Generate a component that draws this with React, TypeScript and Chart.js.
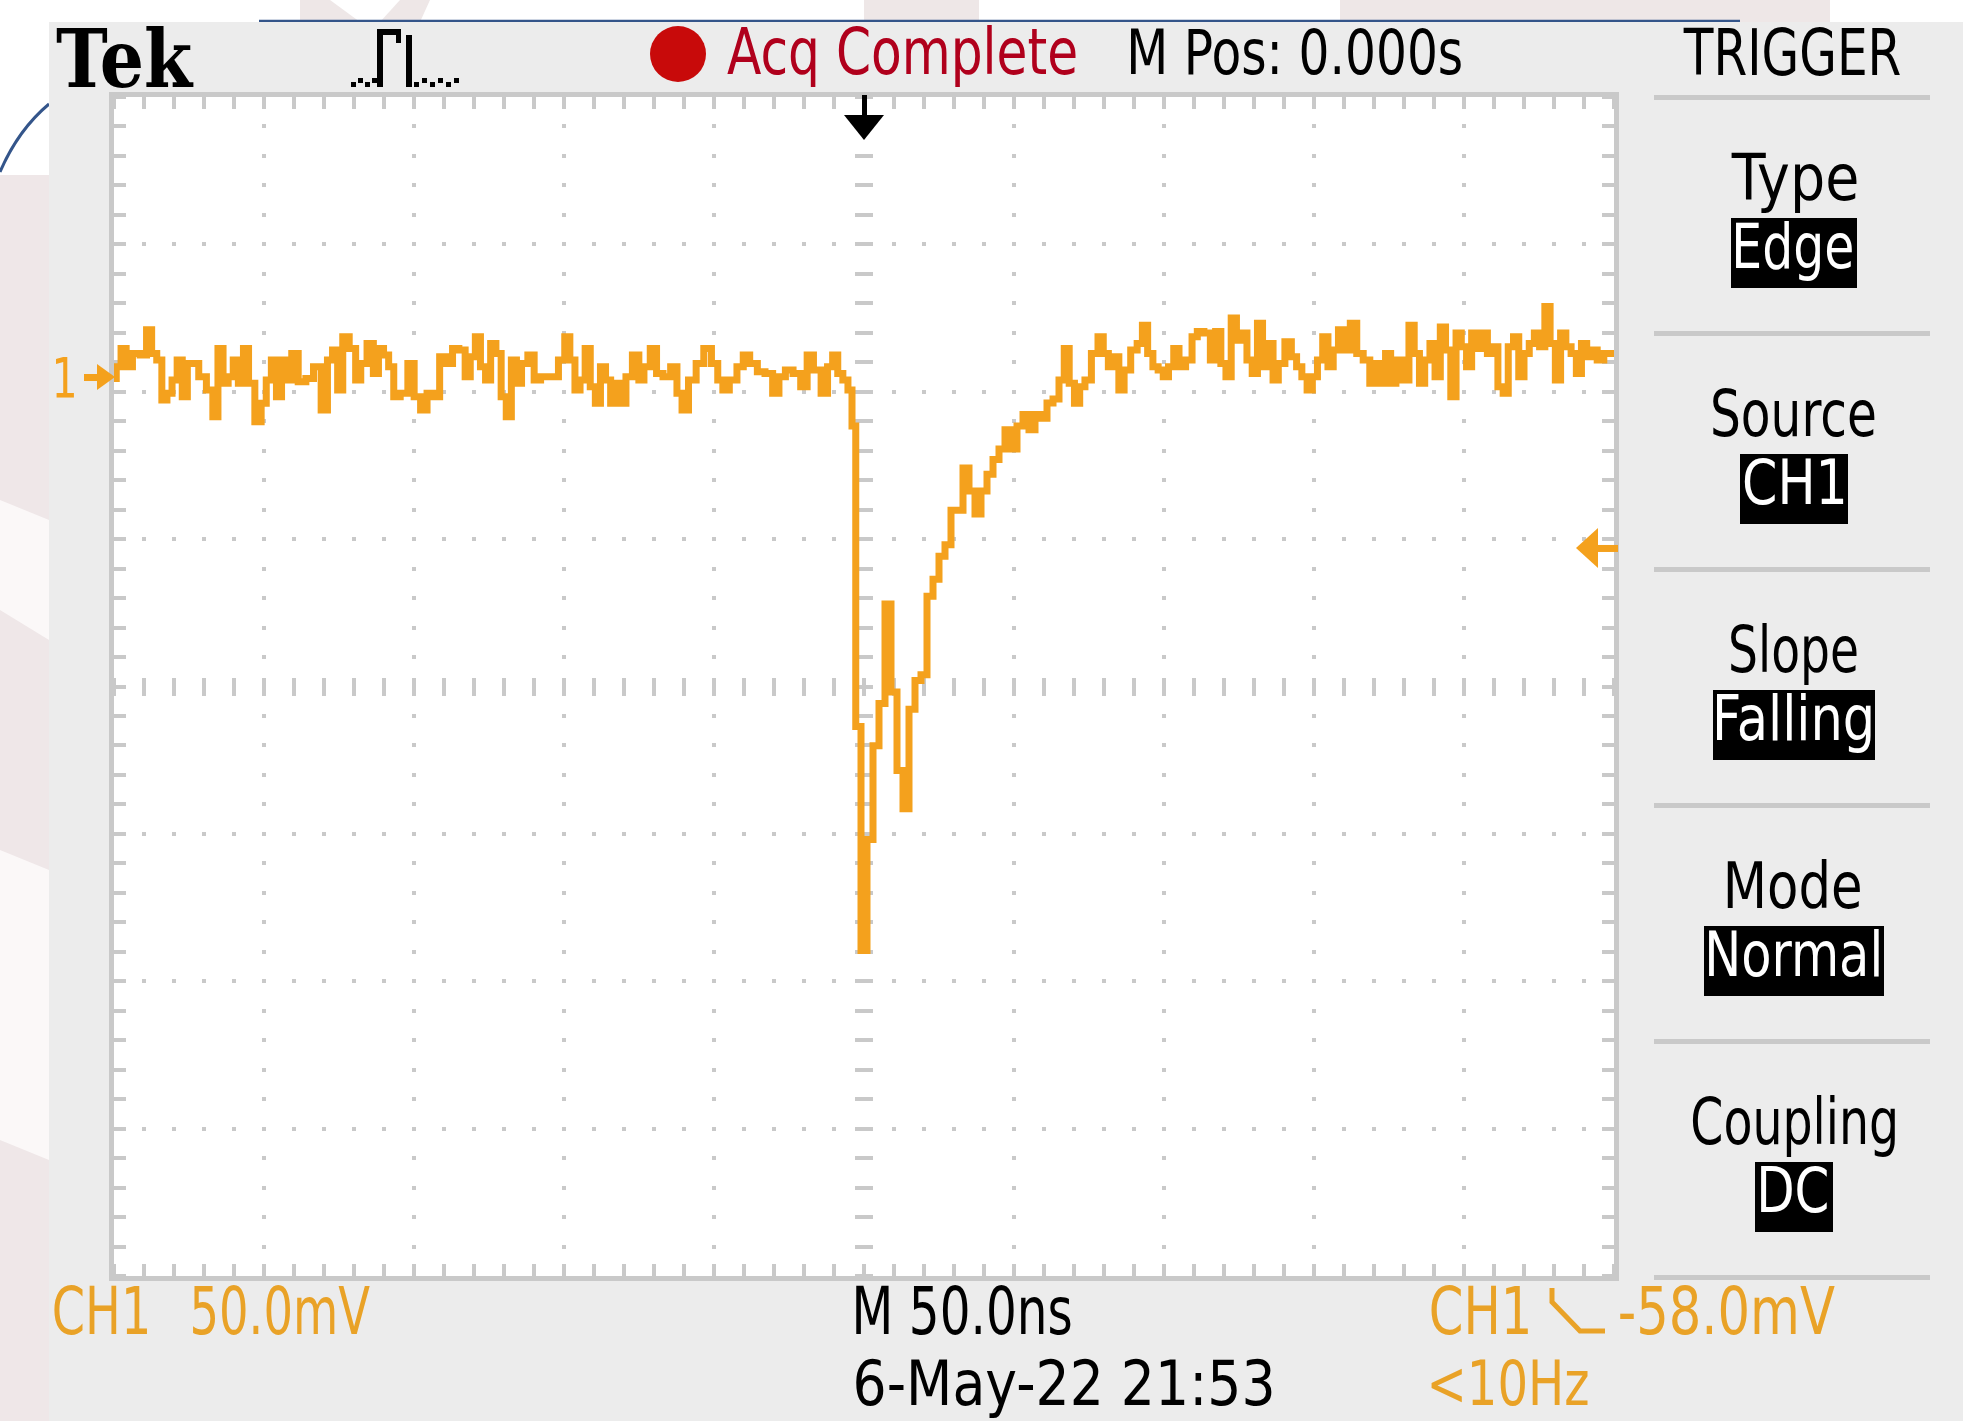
import React, { useEffect, useRef } from 'react';
import { Chart, registerables } from 'chart.js';

Chart.register(...registerables);

const timeNs = [
  -250, -248.5, -246.8, -245.1, -242.6, -240.0, -238.3, -236.6, -234.9, -233.2,
  -231.5, -229.8, -228.1, -226.4, -224.7, -223.0, -220.5, -217.9, -216.2, -214.5,
  -212.8, -211.1, -209.4, -207.7, -206.0, -204.3, -201.8, -200.1, -198.4, -196.7,
  -195.0, -193.3, -191.6, -189.9, -187.3, -184.8, -182.2, -179.7, -178.0, -176.3,
  -174.6, -172.9, -170.3, -168.6, -166.9, -164.4, -162.7, -161.0, -159.3, -157.6,
  -155.9, -153.3, -150.8, -149.1, -146.5, -144.8, -142.3, -140.6, -138.0, -136.3,
  -133.8, -132.1, -130.4, -128.7, -127.0, -125.3, -123.6, -121.8, -120.1, -118.4,
  -116.7, -115.0, -113.3, -110.8, -109.1, -106.5, -103.1, -100.6, -98.9, -97.2,
  -95.5, -93.8, -92.1, -90.4, -88.7, -87.0, -85.3, -83.6, -81.9, -80.2,
  -78.5, -75.9, -74.2, -72.5, -70.0, -68.3, -65.7, -63.2, -61.5, -59.8,
  -57.2, -54.7, -52.1, -49.6, -47.9, -46.2, -43.6, -41.1, -39.4, -36.8,
  -34.3, -31.7, -29.2, -27.5, -24.9, -22.4, -19.8, -18.1, -15.6, -13.0,
  -11.3, -9.6, -7.9, -6.2, -4.5, -3.5, -2, 0, 2, 4,
  6, 8, 10, 12, 14, 16, 18, 20, 22, 24,
  26, 28, 30, 32, 34, 36, 38, 40, 42, 44,
  46, 48, 50, 52, 54, 56, 58, 60, 62, 64,
  66, 67.5, 69.3, 71.0, 72.8, 74.5, 77.1, 78.9, 80.6, 82.3,
  84.1, 85.8, 87.6, 90.2, 91.9, 93.7, 95.4, 97.2, 98.9, 100.6,
  102.4, 104.1, 105.9, 108.5, 110.2, 112.0, 114.6, 116.3, 118.1, 119.8,
  121.5, 123.3, 125.0, 126.8, 128.5, 130.3, 132.0, 133.7, 135.5, 137.2,
  139.0, 141.6, 143.3, 145.1, 146.8, 148.6, 150.3, 152.0, 153.8, 155.5,
  157.3, 159.0, 160.8, 163.4, 165.1, 167.7, 169.5, 171.2, 173.0, 174.7,
  176.4, 178.2, 180.8, 182.5, 184.3, 186.0, 187.8, 189.5, 191.2, 193.0,
  194.7, 196.5, 198.2, 200.0, 201.7, 203.4, 205.2, 206.9, 208.7, 210.4,
  212.2, 213.9, 215.6, 217.4, 219.1, 220.9, 222.6, 224.3, 226.1, 227.8,
  229.6, 231.3, 233.1, 234.8, 236.6, 238.3, 240.0, 241.8, 243.5, 245.3,
  247.9, 250,
];

const ch1mV = [
  -0.5, 3.5, 9.7, 3.5, 8.0, 7.5, 16.0, 8.0, 5.8, -7.8,
  -5.5, -1.0, 5.8, -6.7, 4.6, 4.6, 0.1, -4.4, -13.5, 9.7,
  -2.1, 0.1, 5.8, -2.1, 9.7, -2.1, -15.2, -8.9, -1.0, 5.8,
  -6.7, 5.8, -1.0, 8.0, -1.6, -0.5, 3.5, -11.2, 5.8, 9.2,
  -4.4, 13.7, 9.7, -1.0, 4.6, 11.4, 1.2, 9.7, 7.5, 3.5,
  -6.7, -5.5, 4.6, -6.7, -11.2, -5.5, -6.7, 6.9, 4.6, 9.7,
  9.2, 0.1, 6.9, 13.7, 3.5, -1.0, 11.4, 8.0, -6.7, -13.5,
  5.8, -2.1, 4.6, 7.5, -1.0, 0.1, 0.1, 5.8, 13.7, 5.8,
  -4.4, -1.0, 9.7, -3.3, -8.9, 3.5, -1.0, -8.9, -2.1, -8.9,
  0.1, 7.5, -1.0, 3.5, 9.7, 1.2, 0.1, 3.5, -5.5, -11.2,
  -1.0, 4.6, 9.7, 4.6, -1.0, -4.4, -1.0, 3.5, 7.5, 4.6,
  1.8, 1.2, -5.5, 0.1, 2.4, 1.2, -3.3, 7.5, 2.4, -5.5,
  3.5, 7.5, 1.2, -1.0, -4.4, -16.6, -118.6, -194.6, -156.9, -125.1,
  -110.8, -77.0, -106.9, -133.5, -146.5, -112.7, -103.0, -101.0, -74.4, -68.6,
  -60.8, -56.9, -45.2, -45.2, -30.9, -38.7, -46.5, -38.7, -33.0, -28.0,
  -24.4, -17.9, -24.4, -16.6, -12.7, -17.9, -12.7, -14.0, -8.8, -7.5,
  -1.0, 9.7, -2.1, -8.9, -3.3, -1.0, 8.0, 13.7, 8.0, 3.5,
  6.9, -4.4, 2.4, 9.2, 11.4, 17.6, 8.0, 3.5, 2.4, 0.1,
  3.5, 9.7, 3.5, 5.8, 13.7, 15.4, 14.9, 5.8, 15.4, 4.6,
  0.1, 20.0, 12.5, 14.9, 5.8, 1.2, 18.2, 3.5, 11.4, -1.0,
  4.6, 12.0, 6.9, 3.5, 0.1, -4.4, 0.1, 5.8, 13.7, 3.5,
  9.2, 16.0, 9.2, 18.2, 8.0, 5.8, -2.1, 4.6, -2.1, 8.0,
  -2.1, 5.8, -1.0, 17.6, 8.0, -2.1, 5.8, 11.4, 0.1, 17.0,
  9.2, -6.7, 14.9, 10.3, 3.5, 14.9, 9.7, 14.9, 8.0, 10.3,
  -3.3, -5.5, 10.3, 13.7, 0.1, 8.0, 11.4, 14.9, 10.3, 23.9,
  11.4, -1.0, 14.9, 10.3, 8.0, 1.2, 11.4, 6.9, 9.2, 5.8,
  8.0, 8.0,
];

const xRangeNs = [-250, 250];
const yRangeMv = [-305, 95];
const nsPerDiv = 50;
const mvPerDiv = 50;
const minorPerDiv = 5;
const triggerLevelMv = -58;
const triggerTimeNs = 0;
const groundMv = 0;

const headerTexts = ['Tek', 'Acq Complete', 'M Pos: 0.000s', 'TRIGGER'];
const triggerLabels = ['Type', 'Source', 'Slope', 'Mode', 'Coupling'];
const triggerValues = ['Edge', 'CH1', 'Falling', 'Normal', 'DC'];
const footerTexts = ['CH1', '50.0mV', 'M 50.0ns', '6-May-22 21:53', 'CH1', '-58.0mV', '<10Hz'];
const channelLabel = '1';

// ---------- styling ----------
const W = 1963;
const H = 1421;
const ORANGE = '#f4a11d';
const ORANGE_TXT = '#e9a227';
const GRID = '#c9c9c9';
const PANEL = '#ececec';

function fitText(
  ctx: CanvasRenderingContext2D,
  s: string,
  x0: number,
  x1: number,
  base: number,
  cap: number,
  color: string,
  family = 'DejaVu Sans',
  weight = 'normal'
) {
  const size = cap / 0.729;
  ctx.font = `${weight} ${size.toFixed(1)}px "${family}"`;
  const m = ctx.measureText(s);
  const inkW = m.actualBoundingBoxRight + m.actualBoundingBoxLeft;
  const sx = (x1 - x0) / inkW;
  ctx.save();
  ctx.translate(x0 + m.actualBoundingBoxLeft * sx, base);
  ctx.scale(sx, 1);
  ctx.fillStyle = color;
  ctx.textBaseline = 'alphabetic';
  ctx.textAlign = 'left';
  ctx.fillText(s, 0, 0);
  ctx.restore();
}

const scopePlugin = {
  id: 'scopeScreen',
  beforeDraw(chart: any) {
    const ctx: CanvasRenderingContext2D = chart.ctx;
    const { left, top, right, bottom } = chart.chartArea;
    const xs = chart.scales.x;
    const ys = chart.scales.y;
    ctx.save();
    // outer slide background
    ctx.fillStyle = '#ffffff';
    ctx.fillRect(0, 0, W, H);
    ctx.fillStyle = '#efe7e8';
    ctx.fillRect(0, 175, 49, H - 175);
    ctx.fillStyle = '#fbf8f8';
    ctx.beginPath();
    ctx.moveTo(0, 500); ctx.lineTo(49, 520); ctx.lineTo(49, 640); ctx.lineTo(0, 610); ctx.closePath(); ctx.fill();
    ctx.beginPath();
    ctx.moveTo(0, 850); ctx.lineTo(49, 870); ctx.lineTo(49, 1160); ctx.lineTo(0, 1140); ctx.closePath(); ctx.fill();
    ctx.fillStyle = '#eee7e7';
    ctx.beginPath();
    ctx.moveTo(300, 0); ctx.lineTo(330, 0); ctx.lineTo(360, 22); ctx.lineTo(300, 22); ctx.closePath(); ctx.fill();
    ctx.beginPath();
    ctx.moveTo(400, 0); ctx.lineTo(430, 0); ctx.lineTo(420, 22); ctx.lineTo(380, 22); ctx.closePath(); ctx.fill();
    ctx.fillRect(864, 0, 115, 22);
    ctx.fillRect(1340, 0, 490, 22);
    // blue decorations
    ctx.strokeStyle = '#34558a';
    ctx.lineWidth = 2.5;
    ctx.beginPath();
    ctx.moveTo(259, 21); ctx.lineTo(1740, 21); ctx.stroke();
    ctx.lineWidth = 3;
    ctx.beginPath();
    ctx.moveTo(49, 104); ctx.quadraticCurveTo(18, 130, 0, 172); ctx.stroke();
    // scope panel
    ctx.fillStyle = PANEL;
    ctx.fillRect(49, 22, W - 49, H - 22);
    // plot area
    ctx.fillStyle = '#ffffff';
    ctx.fillRect(left, top, right - left, bottom - top);

    const [x0, x1] = xRangeNs;
    const [y0, y1] = yRangeMv;
    const xMinor = nsPerDiv / minorPerDiv;
    const yMinor = mvPerDiv / minorPerDiv;
    ctx.fillStyle = GRID;
    // dotted major verticals
    for (let v = x0; v <= x1 + 1e-6; v += nsPerDiv) {
      const px = Math.round(xs.getPixelForValue(v));
      for (let m = y0; m <= y1 + 1e-6; m += yMinor) {
        const py = Math.round(ys.getPixelForValue(m));
        ctx.fillRect(px - 2, py - 2, 4, 4);
      }
    }
    // dotted major horizontals
    for (let m = y0; m <= y1 + 1e-6; m += mvPerDiv) {
      const py = Math.round(ys.getPixelForValue(m));
      for (let v = x0; v <= x1 + 1e-6; v += xMinor) {
        const px = Math.round(xs.getPixelForValue(v));
        ctx.fillRect(px - 2, py - 2, 4, 4);
      }
    }
    // centre cross ticks and edge ticks
    const cx = Math.round(xs.getPixelForValue((x0 + x1) / 2));
    const cy = Math.round(ys.getPixelForValue((y0 + y1) / 2));
    for (let m = y0; m <= y1 + 1e-6; m += yMinor) {
      const py = Math.round(ys.getPixelForValue(m));
      ctx.fillRect(cx - 9, py - 2, 18, 4);
      ctx.fillRect(left, py - 2, 12, 4);
      ctx.fillRect(right - 12, py - 2, 12, 4);
    }
    for (let v = x0; v <= x1 + 1e-6; v += xMinor) {
      const px = Math.round(xs.getPixelForValue(v));
      ctx.fillRect(px - 2, cy - 9, 4, 18);
      ctx.fillRect(px - 2, top, 4, 12);
      ctx.fillRect(px - 2, bottom - 12, 4, 12);
    }
    // frame
    ctx.fillRect(left - 5, top - 5, right - left + 10, 5);
    ctx.fillRect(left - 5, bottom, right - left + 10, 5);
    ctx.fillRect(left - 5, top - 5, 5, bottom - top + 10);
    ctx.fillRect(right, top - 5, 5, bottom - top + 10);
    ctx.restore();
  },
  afterDraw(chart: any) {
    const ctx: CanvasRenderingContext2D = chart.ctx;
    const { left, top, right } = chart.chartArea;
    const xs = chart.scales.x;
    const ys = chart.scales.y;
    ctx.save();

    // ground marker "1 ->"
    const gy = ys.getPixelForValue(groundMv);
    fitText(ctx, channelLabel, 56, 74, gy + 20, 40, ORANGE);
    ctx.fillStyle = ORANGE;
    ctx.fillRect(84, gy - 3, 16, 7);
    ctx.beginPath();
    ctx.moveTo(left + 1, gy);
    ctx.lineTo(left - 17, gy - 13);
    ctx.lineTo(left - 17, gy + 13);
    ctx.closePath();
    ctx.fill();

    // trigger level arrow (right)
    const ty = ys.getPixelForValue(triggerLevelMv);
    ctx.beginPath();
    ctx.moveTo(right - 38, ty);
    ctx.lineTo(right - 16, ty - 20);
    ctx.lineTo(right - 16, ty + 20);
    ctx.closePath();
    ctx.fill();
    ctx.fillRect(right - 18, ty - 3, 22, 7);

    // trigger position arrow (top)
    const tx = xs.getPixelForValue(triggerTimeNs);
    ctx.fillStyle = '#000';
    ctx.fillRect(tx - 2, top - 2, 5, 22);
    ctx.beginPath();
    ctx.moveTo(tx - 20, top + 18);
    ctx.lineTo(tx + 20, top + 18);
    ctx.lineTo(tx, top + 43);
    ctx.closePath();
    ctx.fill();

    // header
    fitText(ctx, headerTexts[0], 56, 194, 87, 59, '#000', 'DejaVu Serif', 'bold');
    // acquisition pulse icon
    ctx.fillStyle = '#000';
    for (let i = 0; i < 4; i++) ctx.fillRect(351 + i * 7, i % 2 ? 78 : 82, 5, 5);
    ctx.fillRect(377, 29, 6, 58);
    ctx.fillRect(377, 29, 22, 6);
    ctx.fillRect(396, 29, 5, 14);
    ctx.fillRect(406, 35, 6, 52);
    for (let i = 0; i < 6; i++) ctx.fillRect(414 + i * 8, i % 2 ? 78 : 82, 5, 5);
    // red record dot
    ctx.fillStyle = '#c80a0a';
    ctx.beginPath();
    ctx.ellipse(678, 54, 28, 28, 0, 0, Math.PI * 2);
    ctx.fill();
    fitText(ctx, headerTexts[1], 727, 1076, 74, 47, '#b0001c');
    fitText(ctx, headerTexts[2], 1131, 1461, 74, 46, '#000');
    fitText(ctx, headerTexts[3], 1683, 1900, 75, 47, '#000');

    // right trigger menu
    const labelW = [126, 162, 126, 133, 203];
    const boxW = [126, 108, 162, 180, 78];
    const valW = [116, 99, 154, 170, 66];
    const mid = 1794;
    ctx.fillStyle = GRID;
    for (let k = 0; k <= triggerLabels.length; k++) {
      const d = 97 + 236 * k;
      ctx.fillRect(1654, d - 2, 276, 5);
    }
    triggerLabels.forEach((lab, k) => {
      const d = 97 + 236 * k;
      fitText(ctx, lab, mid - labelW[k] / 2, mid + labelW[k] / 2, d + 103, 47, '#000');
      ctx.fillStyle = '#000';
      ctx.fillRect(mid - boxW[k] / 2, d + 121, boxW[k], 70);
      fitText(ctx, triggerValues[k], mid - valW[k] / 2, mid + valW[k] / 2, d + 171, 45, '#fff');
    });

    // footer
    fitText(ctx, footerTexts[0], 54, 147, 1334, 48, ORANGE_TXT);
    fitText(ctx, footerTexts[1], 193, 370, 1334, 48, ORANGE_TXT);
    fitText(ctx, footerTexts[2], 856, 1071, 1334, 48, '#000');
    fitText(ctx, footerTexts[3], 856, 1272, 1405, 46, '#000');
    fitText(ctx, footerTexts[4], 1431, 1528, 1334, 48, ORANGE_TXT);
    // falling slope glyph
    ctx.strokeStyle = ORANGE_TXT;
    ctx.lineWidth = 5;
    ctx.lineCap = 'butt';
    ctx.lineJoin = 'miter';
    ctx.beginPath();
    ctx.moveTo(1552, 1288);
    ctx.lineTo(1552, 1302);
    ctx.lineTo(1580, 1331);
    ctx.lineTo(1605, 1331);
    ctx.stroke();
    fitText(ctx, footerTexts[5], 1620, 1835, 1334, 48, ORANGE_TXT);
    fitText(ctx, footerTexts[6], 1431, 1588, 1405, 46, ORANGE_TXT);

    ctx.restore();
  },
};

export default function App() {
  const ref = useRef<HTMLCanvasElement | null>(null);

  useEffect(() => {
    document.body.style.margin = '0';
    document.body.style.overflow = 'hidden';
    const canvas = ref.current;
    if (!canvas) return;
    const chart = new Chart(canvas, {
      type: 'line',
      data: {
        datasets: [
          {
            label: 'CH1',
            data: timeNs.map((t, i) => ({ x: t, y: ch1mV[i] })),
            borderColor: ORANGE,
            borderWidth: 7,
            pointRadius: 0,
            stepped: 'middle',
            borderJoinStyle: 'miter',
            borderCapStyle: 'butt',
            fill: false,
          },
        ],
      },
      options: {
        animation: false,
        responsive: false,
        maintainAspectRatio: false,
        devicePixelRatio: 1,
        layout: { padding: { left: 114, top: 97, right: W - 1614, bottom: H - 1276 } },
        scales: {
          x: { type: 'linear', min: xRangeNs[0], max: xRangeNs[1], display: false },
          y: { type: 'linear', min: yRangeMv[0], max: yRangeMv[1], display: false },
        },
        plugins: {
          legend: { display: false },
          tooltip: { enabled: false },
        },
      },
      plugins: [scopePlugin],
    } as any);
    return () => chart.destroy();
  }, []);

  return (
    <div style={{ width: W, height: H, position: 'relative' }}>
      <canvas ref={ref} width={W} height={H} style={{ display: 'block', width: W, height: H }} />
    </div>
  );
}
